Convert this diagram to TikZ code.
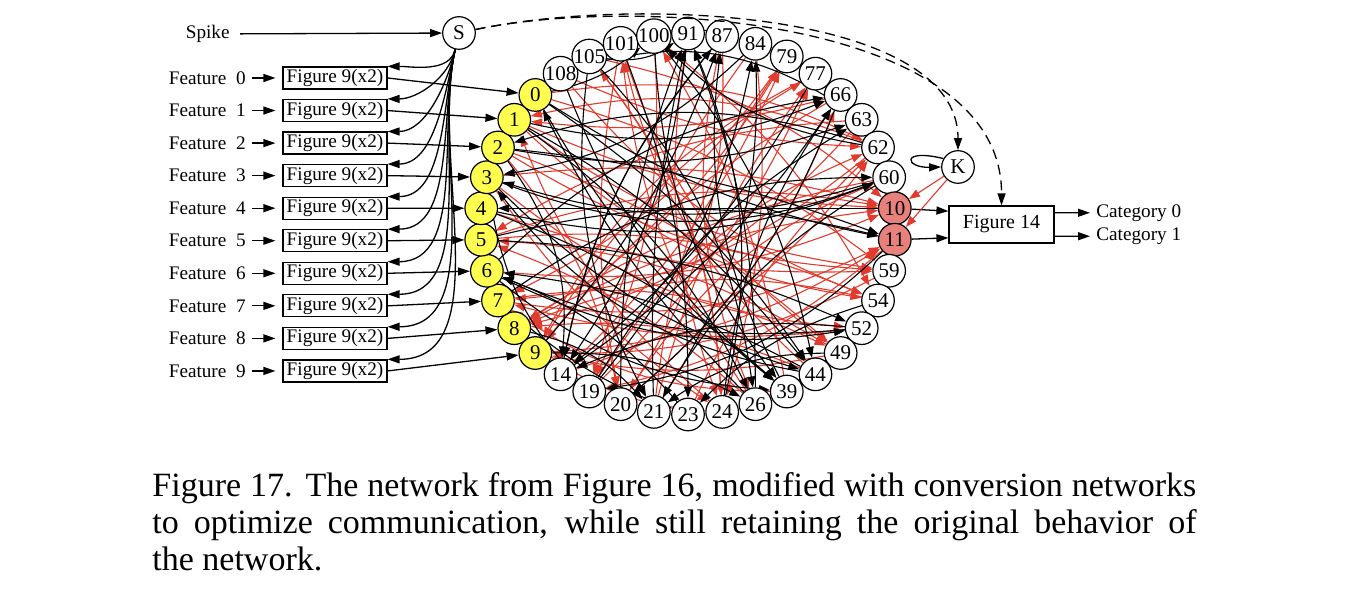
\documentclass[tikz,border=0pt]{standalone}
\usepackage{fontspec}
\setmainfont{Liberation Serif}
\usetikzlibrary{arrows.meta,calc}
\pgfdeclarelayer{bg}
\pgfsetlayers{bg,main}
\definecolor{edgered}{RGB}{226,58,44}
\definecolor{nodeyellow}{RGB}{255,255,80}
\definecolor{nodered}{RGB}{232,128,124}
\tikzset{
  tip/.style={-{Triangle[length=6pt,width=4pt]},line width=0.65pt},
  ntip/.style={-{Triangle[length=5.5pt,width=4pt]},line width=0.55pt},
  blk/.style={ntip,black},
  rd/.style={ntip,edgered},
  ring/.style={circle,draw,line width=0.6pt,minimum size=16.3pt,inner sep=0pt,font=\fontsize{10.5}{12}\selectfont},
  fbox/.style={draw,line width=0.6pt,minimum width=52pt,minimum height=11pt,inner sep=0pt,fill=white},
  lbl/.style={inner sep=1pt},
}
\begin{document}
\begin{tikzpicture}[x=0.5pt,y=-0.5pt,font=\fontsize{9.6}{11}\selectfont]
\useasboundingbox (0,0) rectangle (1348,597);
% ring of neurons
\foreach \nm/\fc [count=\i from 0] in {91/white,87/white,84/white,79/white,77/white,66/white,63/white,62/white,60/white,10/nodered,11/nodered,59/white,54/white,52/white,49/white,44/white,39/white,26/white,24/white,23/white,21/white,20/white,19/white,14/white,9/nodeyellow,8/nodeyellow,7/nodeyellow,6/nodeyellow,5/nodeyellow,4/nodeyellow,3/nodeyellow,2/nodeyellow,1/nodeyellow,0/nodeyellow,108/white,105/white,101/white,100/white}
  \node[ring,fill=\fc] (n\nm) at ({688+207.5*cos(90-\i*360/38)},{224-190.5*sin(90-\i*360/38)}) {\nm};
% spike and S
\node[ring,fill=white] (S) at (459,33) {S};
\node[lbl,anchor=east] (spike) at (232,34) {Spike};
\draw[tip,shorten <=4pt] (spike) -- (S);
% features
\foreach \k in {0,...,9}{
  \pgfmathsetmacro\yy{78+32.55*\k}
  \node[lbl,anchor=east] (f\k) at (248,\yy) {Feature~~\k};
  \node[fbox] (b\k) at (335,\yy) {Figure 9(x2)};
  \draw[tip,shorten <=2pt,shorten >=3.5pt] (f\k) -- (b\k);
  \draw[tip] (b\k.east) -- (n\k);
  \draw[tip] (S) to[out=-103,in=0,looseness=0.9] (b\k.north east);
}
% K and output
\node[ring,fill=white] (K) at (958,167) {K};
\draw[tip] (K.150) .. controls (900,148) and (905,168) .. (K.west);
\node[draw,line width=0.6pt,minimum width=52.5pt,minimum height=18.5pt,fill=white,font=\fontsize{10}{12}\selectfont] (F14) at (1001.5,224.5) {Figure 14};
\coordinate (F14a) at ($(F14.north west)!0.15!(F14.south west)$);
\coordinate (F14b) at ($(F14.north west)!0.85!(F14.south west)$);
\coordinate (F14c) at ($(F14.north east)!0.19!(F14.south east)$);
\coordinate (F14d) at ($(F14.north east)!0.81!(F14.south east)$);
\node[lbl,anchor=west] (c0) at (1094,213) {Category 0};
\node[lbl,anchor=west] (c1) at (1094,236) {Category 1};
\draw[tip] (n10) -- (F14a);
\draw[tip] (n11) -- (F14b);
\draw[tip,shorten >=2pt] (F14c) -- (c0);
\draw[tip,shorten >=2pt] (F14d) -- (c1);
\draw[rd] (K) -- (n10);
\draw[rd] (K) -- (n11);
\draw[tip,dash pattern=on 5pt off 3pt] (S) .. controls (640,-5) and (1002,20) .. (F14.north);
\draw[tip,dash pattern=on 5pt off 3pt] (S) .. controls (640,-5) and (958,12) .. (K.north);
% network
\begin{pgfonlayer}{bg}
\foreach \s/\t/\b in {4/10/0, 1/10/-6, 3/10/6, 2/59/-8, 5/54/8, 0/59/6, 1/54/-10, 7/49/10, 3/24/-6, 2/20/8, 8/24/-10, 9/77/8, 14/79/-6, 19/62/10, 20/66/-8, 21/77/6, 24/105/-10, 26/101/8, 39/100/-6, 44/101/10, 49/5/-8, 52/7/6, 54/8/-10, 59/9/8, 60/8/-6, 62/7/10, 63/5/-8, 66/1/6, 77/9/-10, 79/8/8, 84/19/-6, 87/20/10, 91/24/-8, 100/54/6, 101/49/-10, 105/10/8, 108/62/-6, 11/19/8, 62/1/-10, 23/62/6, 6/10/-8, 0/62/10, 4/59/-6, 5/10/8, 7/11/-10, 8/10/6, 9/11/-8, 20/60/10, 19/77/-6, 21/79/8, 14/62/-10, 100/19/8, 101/20/-6, 105/24/10, 108/54/-8, 84/24/6, 87/26/-10, 79/7/8, 66/9/-6, 63/8/10, 1/59/-8, 2/49/6, 3/52/-10, 24/1/8, 26/5/-6, 39/7/10, 44/8/-8, 49/9/6}
  {\pgfmathsetmacro\bb{1.7*\b}
  \draw[rd] (n\s) to[bend left=\bb] (n\t);}
\foreach \s/\t/\b in {10/4/0, 60/3/10, 62/2/-10, 26/0/5, 23/6/-8, 44/3/12, 0/11/-6, 2/11/4, 5/11/8, 6/52/-10, 5/52/6, 3/60/-12, 7/60/10, 2/63/-8, 1/66/-10, 21/91/4, 9/87/-6, 14/87/8, 19/84/-8, 6/66/10, 0/44/6, 0/39/-6, 1/26/8, 105/21/-10, 101/23/6, 100/39/-10, 91/14/8, 87/14/-8, 84/3/10, 77/14/6, 63/108/-15, 62/100/10, 52/6/8, 49/21/-10, 44/6/-6, 39/87/10, 26/91/-6, 24/66/8, 21/84/-10, 20/91/6, 54/23/-8, 59/26/10, 4/39/6, 3/44/-8, 8/21/10, 7/23/-6, 9/26/8, 6/39/-10, 1/44/6, 108/39/-8, 105/26/10, 14/66/-6, 19/63/8, 4/60/-10, 2/14/12, 3/19/-10, 66/20/8, 60/21/-8, 11/19/10, 52/14/-8, 108/87/10, 105/91/-12, 101/84/10, 0/100/-8, 24/91/-10, 100/44/8}
  {\pgfmathsetmacro\bb{1.7*\b}
  \draw[blk] (n\s) to[bend left=\bb] (n\t);}
\end{pgfonlayer}
% caption
\begin{scope}[font=\fontsize{17}{18.5}\selectfont]
\node[anchor=base west,inner sep=0pt] (cap1) at (152,497) {\makebox[522pt][s]{Figure 17. The network from Figure 16, modified with conversion networks}};
\node[anchor=base west,inner sep=0pt] (cap2) at (152,534) {\makebox[522pt][s]{to optimize communication, while still retaining the original behavior of}};
\node[anchor=base west,inner sep=0pt] (cap3) at (152,571) {the network.};
\end{scope}
\end{tikzpicture}
\end{document}
